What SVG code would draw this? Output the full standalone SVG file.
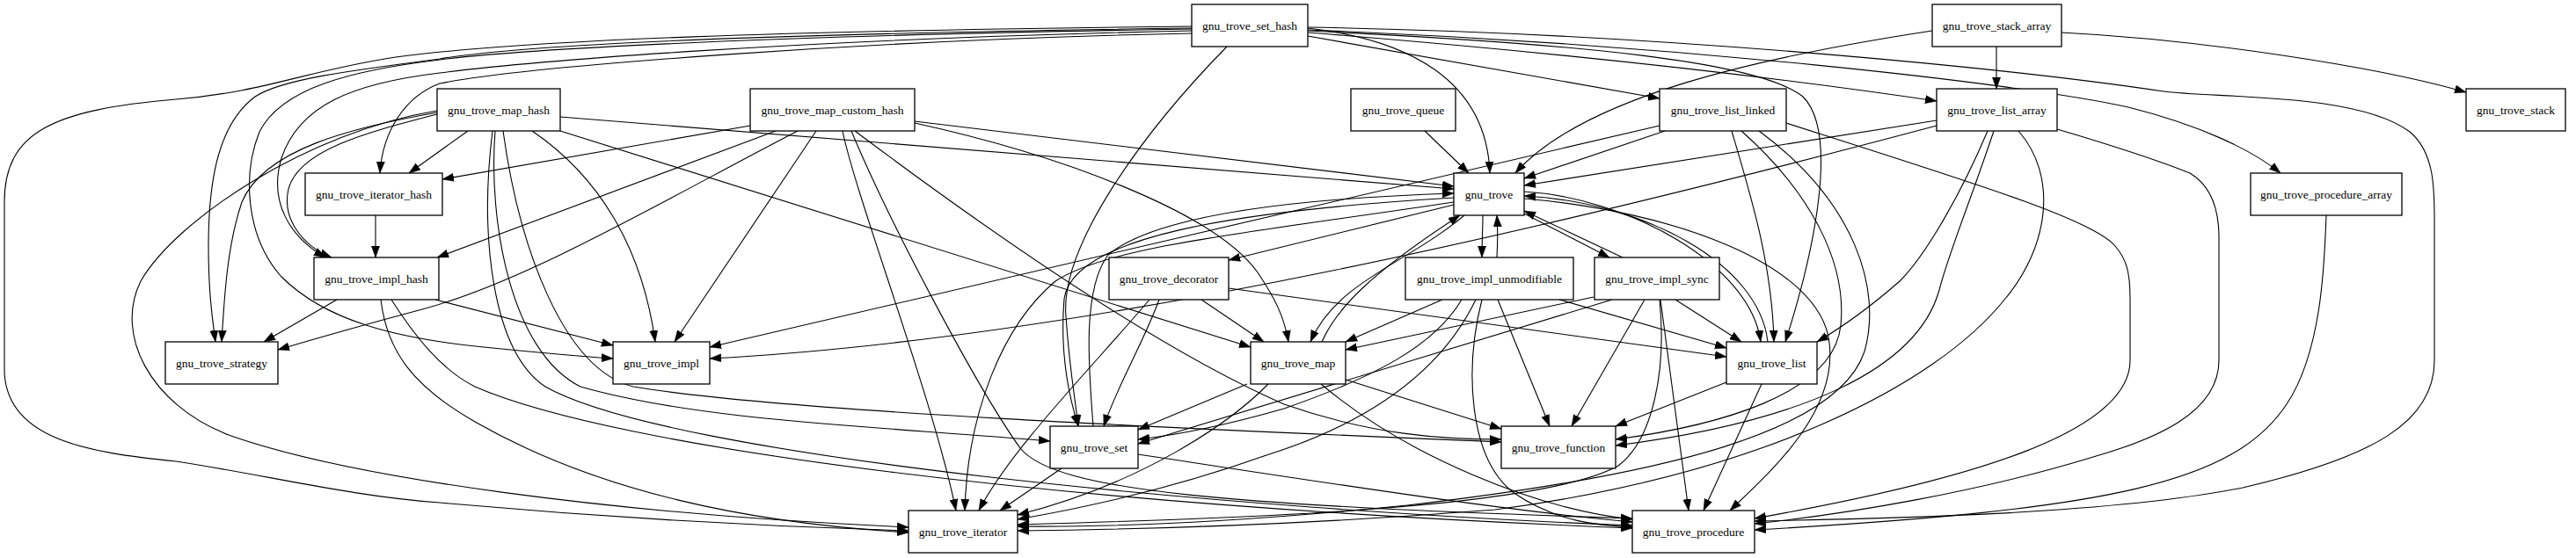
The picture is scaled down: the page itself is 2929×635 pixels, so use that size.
<svg xmlns="http://www.w3.org/2000/svg" width="2929" height="635" viewBox="0 0 2929 635">
<style>
.n rect{fill:#fff;stroke:#000;stroke-width:1.3}
.n text{font-family:"Liberation Serif","Times New Roman",serif;font-size:13.5px;text-anchor:middle;fill:#000}
#edges path{fill:none;stroke:#000;stroke-width:1.1;marker-end:url(#a)}
</style>
<defs>
<marker id="a" viewBox="0 0 13 10" refX="13" refY="5" markerWidth="13" markerHeight="10" markerUnits="userSpaceOnUse" orient="auto"><path d="M0,0.4 L13,5 L0,9.6 z" fill="#000" stroke="#000" stroke-width="0.5"/></marker>
</defs>
<rect x="0" y="0" width="2929" height="635" fill="#fff"/>
<g id="edges">
<path d="M1487,32 C1600,45 1690,90 1694,197"/>
<path d="M1487,41 L1887,112"/>
<path d="M1487,37 C1750,58 2000,85 2202,115"/>
<path d="M1487,35 C1800,50 2000,70 2050,110 C2090,150 2065,280 2030,389"/>
<path d="M1487,34 C1900,50 2300,95 2420,122 C2500,142 2560,170 2593,197"/>
<path d="M1487,31 C1900,38 2300,80 2460,104 C2520,112 2680,105 2740,150 C2770,175 2768,220 2768,260 L2768,410 C2768,480 2700,520 2550,555 C2400,585 2150,590 1995,593"/>
<path d="M1395,53 C1300,150 1205,280 1212,360 C1216,420 1222,450 1226,485"/>
<path d="M1355,38 C1000,45 600,75 500,95 C460,110 435,150 432,197"/>
<path d="M1355,30 C900,35 600,45 450,65 C350,80 300,105 200,113 C60,125 5,150 5,230 L5,420 C5,500 100,515 200,525 C300,540 400,565 500,572 C700,590 900,600 1033,604"/>
<path d="M1355,32 C900,38 600,50 500,67 C400,80 320,90 290,110 C250,140 237,200 237,280 C237,330 241,360 245,389"/>
<path d="M1355,33 C900,40 600,55 500,68 C400,80 320,100 295,150 C275,200 280,270 320,315 C370,365 450,385 550,395 C600,400 650,405 697,408"/>
<path d="M1355,35 C900,45 600,70 500,83 C400,95 340,120 320,180 C305,230 330,270 370,293"/>
<path d="M2270,53 L2270,101"/>
<path d="M2344,37 C2500,45 2700,75 2804,105"/>
<path d="M2197,35 C2000,65 1800,110 1723,197"/>
<path d="M532,149 L465,197"/>
<path d="M497,130 C420,150 340,170 328,215 C320,250 345,280 377,293"/>
<path d="M497,128 C400,145 300,170 275,230 C258,280 255,340 252,389"/>
<path d="M497,126 C350,150 200,250 160,320 C130,380 170,460 260,495 C400,545 700,585 1033,600"/>
<path d="M605,149 C680,200 730,280 745,389"/>
<path d="M637,133 L1653,215"/>
<path d="M637,149 L1422,395"/>
<path d="M563,149 C555,250 580,400 660,440 C800,480 1000,485 1194,502"/>
<path d="M572,149 C590,280 640,420 720,440 C900,470 1400,490 1707,503"/>
<path d="M560,149 C545,270 560,400 620,440 C760,520 1400,580 1856,598"/>
<path d="M853,143 L503,204"/>
<path d="M882,149 L497,293"/>
<path d="M907,149 C760,225 600,320 480,352 C420,368 360,385 316,398"/>
<path d="M928,149 L767,389"/>
<path d="M1040,138 L1653,212"/>
<path d="M1040,140 C1200,175 1380,240 1430,310 C1450,340 1460,360 1465,389"/>
<path d="M958,149 C975,230 1060,450 1087,581"/>
<path d="M968,149 C1010,250 1110,440 1160,510 C1200,560 1400,575 1856,590"/>
<path d="M972,149 C1080,230 1300,390 1460,460 C1560,495 1640,500 1707,500"/>
<path d="M1620,149 L1670,197"/>
<path d="M1893,149 L1733,203"/>
<path d="M1969,149 C1990,220 2015,300 2017,389"/>
<path d="M2031,140 C2250,210 2380,250 2405,280 C2418,295 2422,310 2422,340 L2422,410 C2422,490 2250,545 1995,590"/>
<path d="M1980,149 C2060,220 2100,300 2093,370 C2085,450 1950,485 1837,500"/>
<path d="M2000,149 C2110,230 2140,330 2120,400 C2090,490 1900,540 1600,575 C1400,595 1250,600 1157,599"/>
<path d="M1887,143 L807,395"/>
<path d="M2202,137 L1733,211"/>
<path d="M2260,149 C2230,220 2190,290 2160,320 C2120,355 2090,375 2066,389"/>
<path d="M2339,147 C2400,165 2460,185 2490,197 C2515,212 2523,240 2523,270 L2523,410 C2523,470 2450,500 2380,520 C2250,560 2100,585 1995,596"/>
<path d="M2267,149 C2240,230 2215,290 2205,330 C2180,420 2050,480 1837,507"/>
<path d="M2295,149 C2340,200 2330,280 2280,340 C2200,440 2000,540 1700,580 C1450,600 1250,603 1157,604"/>
<path d="M2202,143 C1800,250 1250,385 807,408"/>
<path d="M427,245 L427,293"/>
<path d="M1653,233 L1397,296"/>
<path d="M1686,245 C1686,260 1685,275 1685,293"/>
<path d="M1702,293 C1703,275 1703,260 1702,245"/>
<path d="M1733,243 L1830,293"/>
<path d="M1845,293 L1733,240"/>
<path d="M1665,245 C1600,300 1520,320 1490,389"/>
<path d="M1503,389 C1520,350 1560,310 1660,245"/>
<path d="M1653,225 C1400,240 1220,270 1210,340 C1205,400 1215,450 1226,485"/>
<path d="M1243,485 C1238,420 1230,330 1260,290 C1320,240 1500,225 1653,220"/>
<path d="M1653,230 C1420,265 1260,280 1200,320 C1140,370 1100,470 1097,581"/>
<path d="M1733,218 C1850,225 1990,300 2002,389"/>
<path d="M2010,389 C2000,300 1870,230 1733,223"/>
<path d="M1733,226 C1900,240 2070,300 2080,390 C2090,470 2010,540 1967,581"/>
<path d="M2645,245 C2643,300 2640,400 2600,460 C2540,550 2400,580 1995,603"/>
<path d="M383,341 L300,389"/>
<path d="M495,341 L697,393"/>
<path d="M433,341 C440,400 470,440 540,480 C680,560 850,595 1033,606"/>
<path d="M445,341 C470,380 500,420 540,440 C700,510 1200,575 1856,601"/>
<path d="M1366,341 L1437,389"/>
<path d="M1318,341 C1300,390 1270,440 1255,485"/>
<path d="M1397,328 L1963,406"/>
<path d="M1307,341 C1240,420 1150,510 1113,581"/>
<path d="M1640,341 L1530,389"/>
<path d="M1662,341 C1630,395 1560,430 1460,465 C1390,485 1340,495 1294,500"/>
<path d="M1773,341 L1963,396"/>
<path d="M1703,341 L1762,485"/>
<path d="M1678,341 C1640,420 1560,480 1440,518 C1350,550 1250,575 1157,591"/>
<path d="M1685,341 C1665,420 1670,520 1720,560 C1770,595 1820,598 1856,600"/>
<path d="M1812,338 L1530,398"/>
<path d="M1833,341 L1294,505"/>
<path d="M1905,341 L1980,389"/>
<path d="M1870,341 L1787,485"/>
<path d="M1887,341 C1895,420 1880,500 1840,530 C1750,580 1400,590 1157,597"/>
<path d="M1888,341 L1920,581"/>
<path d="M1418,437 L1294,489"/>
<path d="M1530,432 L1707,488"/>
<path d="M1442,437 C1400,480 1300,550 1157,586"/>
<path d="M1502,437 C1600,520 1750,580 1856,591"/>
<path d="M1963,435 L1837,485"/>
<path d="M2003,437 L1937,581"/>
<path d="M1207,533 L1137,581"/>
<path d="M1294,517 C1500,548 1700,580 1856,594"/>
</g>
<g id="n_set_hash" class="n"><rect x="1355" y="5" width="132" height="48"/><text x="1421" y="33.5">gnu_trove_set_hash</text></g>
<g id="n_stack_array" class="n"><rect x="2197" y="5" width="147" height="48"/><text x="2270.5" y="33.5">gnu_trove_stack_array</text></g>
<g id="n_map_hash" class="n"><rect x="497" y="101" width="140" height="48"/><text x="567" y="129.5">gnu_trove_map_hash</text></g>
<g id="n_map_custom_hash" class="n"><rect x="853" y="101" width="187" height="48"/><text x="946.5" y="129.5">gnu_trove_map_custom_hash</text></g>
<g id="n_queue" class="n"><rect x="1536" y="101" width="119" height="48"/><text x="1595.5" y="129.5">gnu_trove_queue</text></g>
<g id="n_list_linked" class="n"><rect x="1887" y="101" width="144" height="48"/><text x="1959" y="129.5">gnu_trove_list_linked</text></g>
<g id="n_list_array" class="n"><rect x="2202" y="101" width="137" height="48"/><text x="2270.5" y="129.5">gnu_trove_list_array</text></g>
<g id="n_stack" class="n"><rect x="2804" y="101" width="113" height="48"/><text x="2860.5" y="129.5">gnu_trove_stack</text></g>
<g id="n_iterator_hash" class="n"><rect x="347" y="197" width="156" height="48"/><text x="425" y="225.5">gnu_trove_iterator_hash</text></g>
<g id="n_trove" class="n"><rect x="1653" y="197" width="80" height="48"/><text x="1693" y="225.5">gnu_trove</text></g>
<g id="n_procedure_array" class="n"><rect x="2559" y="197" width="172" height="48"/><text x="2645" y="225.5">gnu_trove_procedure_array</text></g>
<g id="n_impl_hash" class="n"><rect x="357" y="293" width="142" height="48"/><text x="428" y="321.5">gnu_trove_impl_hash</text></g>
<g id="n_decorator" class="n"><rect x="1261" y="293" width="136" height="48"/><text x="1329" y="321.5">gnu_trove_decorator</text></g>
<g id="n_impl_unmodifiable" class="n"><rect x="1598" y="293" width="191" height="48"/><text x="1693.5" y="321.5">gnu_trove_impl_unmodifiable</text></g>
<g id="n_impl_sync" class="n"><rect x="1813" y="293" width="142" height="48"/><text x="1884" y="321.5">gnu_trove_impl_sync</text></g>
<g id="n_strategy" class="n"><rect x="188" y="389" width="128" height="48"/><text x="252" y="417.5">gnu_trove_strategy</text></g>
<g id="n_impl" class="n"><rect x="697" y="389" width="110" height="48"/><text x="752" y="417.5">gnu_trove_impl</text></g>
<g id="n_map" class="n"><rect x="1422" y="389" width="108" height="48"/><text x="1476" y="417.5">gnu_trove_map</text></g>
<g id="n_list" class="n"><rect x="1963" y="389" width="103" height="48"/><text x="2014.5" y="417.5">gnu_trove_list</text></g>
<g id="n_set" class="n"><rect x="1194" y="485" width="100" height="48"/><text x="1244" y="513.5">gnu_trove_set</text></g>
<g id="n_function" class="n"><rect x="1707" y="485" width="130" height="48"/><text x="1772" y="513.5">gnu_trove_function</text></g>
<g id="n_iterator" class="n"><rect x="1033" y="581" width="124" height="48"/><text x="1095" y="609.5">gnu_trove_iterator</text></g>
<g id="n_procedure" class="n"><rect x="1856" y="581" width="139" height="48"/><text x="1925.5" y="609.5">gnu_trove_procedure</text></g>
</svg>
